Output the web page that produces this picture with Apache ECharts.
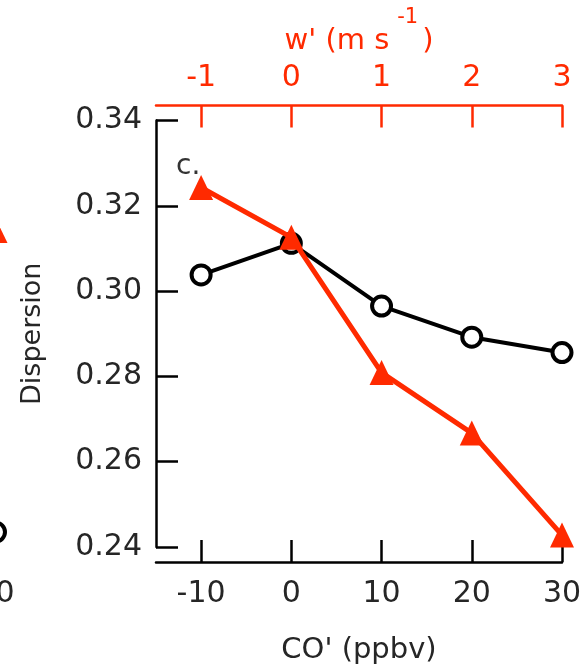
<!DOCTYPE html>
<html>
<head>
<meta charset="utf-8">
<script src="https://cdn.jsdelivr.net/npm/echarts@6/dist/echarts.min.js"></script>
<style>html,body{margin:0;padding:0;background:#fff}#c{width:586px;height:667px}</style>
</head>
<body>
<div id="c"></div>
<script>
// ---- data ----
const coValues = [-10, 0, 10, 20, 30];            // CO' (ppbv), bottom axis
const wValues = [-1, 0, 1, 2, 3];                 // w' (m s-1), top axis
const coDispersion = [0.3038, 0.3112, 0.2965, 0.2892, 0.2856];
const wDispersion = [0.3243, 0.3126, 0.2809, 0.2667, 0.2428];
const yTickValues = [0.24, 0.26, 0.28, 0.30, 0.32, 0.34];
const panelLabel = 'c.';
// fragments of the neighbouring panel (b.) visible at the left edge
const nbCo = [30];
const nbCoDispersion = [0.2435];
const nbW = [3];
const nbWDispersion = [0.3142];

const RED = '#ff2a00';
const FONT = 'DejaVu Sans';
const TXT = '#262626';

const chart = echarts.init(document.getElementById('c'), null, {renderer: 'canvas'});

const circleStyle = {color: '#fff', borderColor: '#000', borderWidth: 4};

const option = {
  animation: false,
  backgroundColor: '#fff',
  grid: [
    {left: 156, right: 24, top: 120.5, bottom: 120, containLabel: false, outerBoundsMode: 'none'},
    {left: -200, width: 195.5, top: 120.5, bottom: 120, containLabel: false, outerBoundsMode: 'none'}
  ],
  xAxis: [
    {
      type: 'value', gridIndex: 0, position: 'bottom', min: -15, max: 30, offset: 15,
      axisLine: {show: true, onZero: false, lineStyle: {color: '#000', width: 2.5}},
      axisTick: {show: true, inside: true, length: 22, customValues: coValues, lineStyle: {color: '#000', width: 2.5}},
      axisLabel: {customValues: coValues, margin: 17, fontFamily: FONT, fontSize: 30, color: TXT},
      splitLine: {show: false},
      name: "CO' (ppbv)", nameLocation: 'middle', nameGap: 74,
      nameTextStyle: {fontFamily: FONT, fontSize: 29, color: TXT}
    },
    {
      type: 'value', gridIndex: 0, position: 'top', min: -1.5, max: 3, offset: 15,
      axisLine: {show: true, onZero: false, lineStyle: {color: RED, width: 2.5}},
      axisTick: {show: true, inside: true, length: 22, customValues: wValues, lineStyle: {color: RED, width: 2.5}},
      axisLabel: {customValues: wValues, margin: 12, fontFamily: FONT, fontSize: 30, color: RED},
      splitLine: {show: false},
      name: "{a|w' (m s}{s|-1}{a|)}", nameLocation: 'middle', nameGap: 50, nameMoveOverlap: false,
      nameTextStyle: {
        color: RED,
        rich: {
          a: {fontFamily: FONT, fontSize: 29, color: RED, verticalAlign: 'middle'},
          s: {fontFamily: FONT, fontSize: 21, color: RED, lineHeight: 21, padding: [0, 4, 46, 8], verticalAlign: 'middle'}
        }
      }
    },
    {
      type: 'value', gridIndex: 1, position: 'bottom', min: 20, max: 30, offset: 15,
      axisLine: {show: false}, axisTick: {show: false},
      axisLabel: {customValues: nbCo, margin: 17, fontFamily: FONT, fontSize: 30, color: TXT},
      splitLine: {show: false}
    },
    {
      type: 'value', gridIndex: 1, position: 'top', min: 2, max: 3, offset: 15,
      axisLine: {show: false}, axisTick: {show: false},
      axisLabel: {customValues: nbW, margin: 12, fontFamily: FONT, fontSize: 30, color: RED,
        padding: [0, 12, 0, 0]},
      splitLine: {show: false}
    }
  ],
  yAxis: [
    {
      type: 'value', gridIndex: 0, min: 0.24, max: 0.34,
      axisLine: {show: true, onZero: false, lineStyle: {color: '#000', width: 2.5}},
      axisTick: {show: true, inside: true, length: 22, customValues: yTickValues, lineStyle: {color: '#000', width: 2.5}},
      axisLabel: {customValues: yTickValues, margin: 14, fontFamily: FONT, fontSize: 30, color: TXT,
        formatter: v => v.toFixed(2)},
      splitLine: {show: false},
      name: 'Dispersion', nameLocation: 'middle', nameGap: 110,
      nameTextStyle: {fontFamily: FONT, fontSize: 27, color: TXT}
    },
    {
      type: 'value', gridIndex: 1, min: 0.24, max: 0.34, show: false
    }
  ],
  series: [
    {
      type: 'line', xAxisIndex: 0, yAxisIndex: 0, z: 2,
      data: coValues.map((x, i) => [x, coDispersion[i]]),
      symbol: 'circle', symbolSize: 19, clip: false,
      lineStyle: {color: '#000', width: 4},
      itemStyle: circleStyle
    },
    {
      type: 'line', xAxisIndex: 1, yAxisIndex: 0, z: 3,
      data: wValues.map((x, i) => [x, wDispersion[i]]),
      symbol: 'triangle', symbolSize: [24, 25], clip: false,
      lineStyle: {color: RED, width: 5},
      itemStyle: {color: RED, borderWidth: 0}
    },
    {
      type: 'line', xAxisIndex: 2, yAxisIndex: 1, z: 2,
      data: nbCo.map((x, i) => [x, nbCoDispersion[i]]),
      symbol: 'circle', symbolSize: 19, clip: false,
      lineStyle: {color: '#000', width: 4},
      itemStyle: circleStyle
    },
    {
      type: 'line', xAxisIndex: 3, yAxisIndex: 1, z: 3,
      data: nbW.map((x, i) => [x, nbWDispersion[i]]),
      symbol: 'triangle', symbolSize: [24, 25], clip: false,
      lineStyle: {color: RED, width: 5},
      itemStyle: {color: RED, borderWidth: 0}
    }
  ],
  graphic: [
    {type: 'text', left: 176, top: 153, z: 10,
      style: {text: panelLabel, font: '28px "DejaVu Sans"', fill: '#333'}}
  ]
};
chart.setOption(option);
</script>
</body>
</html>
